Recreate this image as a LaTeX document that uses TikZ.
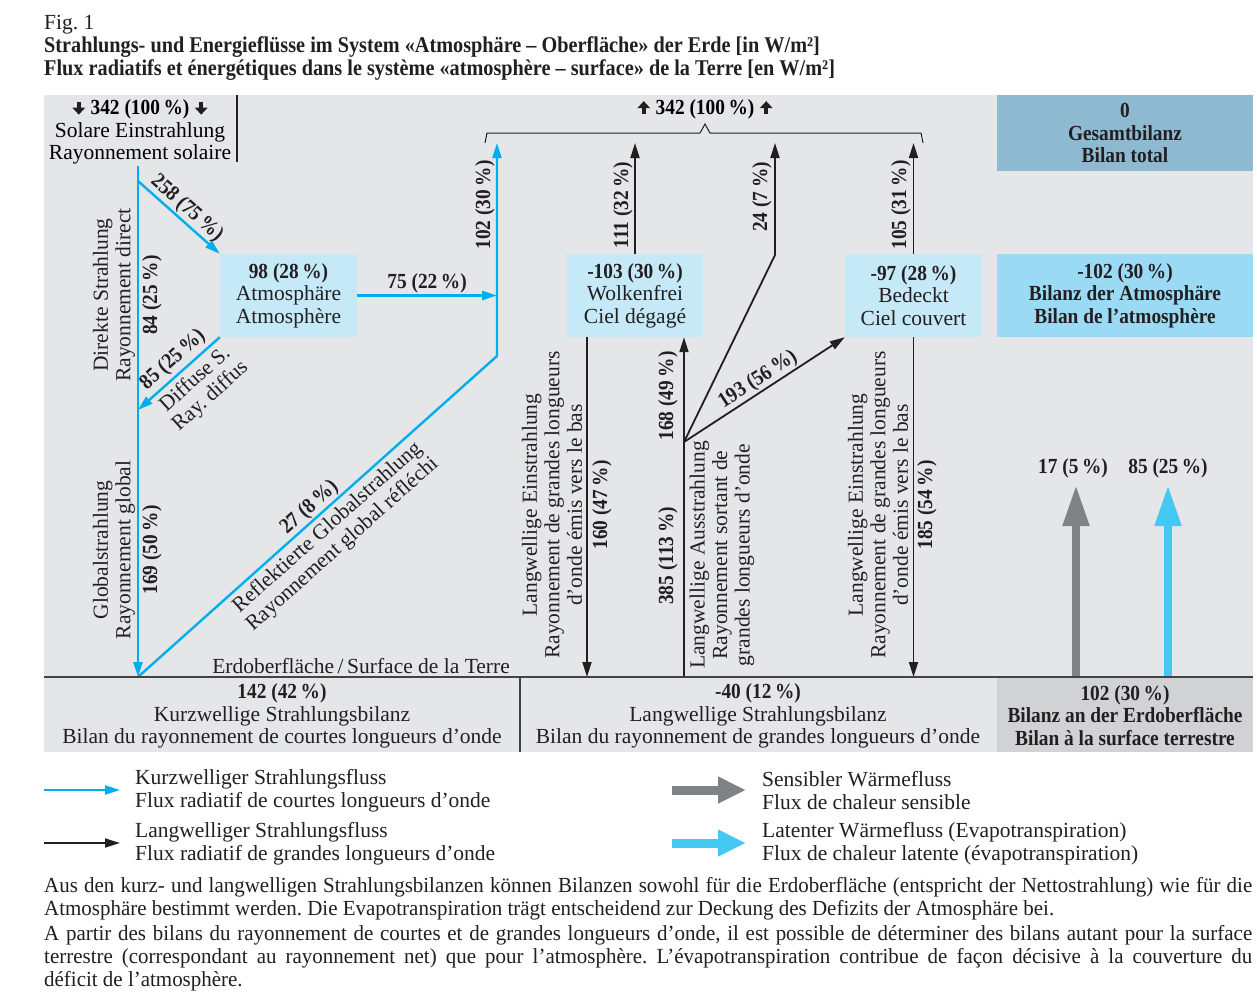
\documentclass[tikz,border=0pt]{standalone}
\usepackage{fontspec}
\setmainfont{Liberation Serif}[BoldFeatures={FakeStretch=0.9}]
\newfontfamily\parafont{Liberation Serif}[FakeStretch=0.975]
\usetikzlibrary{arrows.meta}

\definecolor{ink}{RGB}{35,31,32}
\definecolor{panel}{RGB}{229,230,232}
\definecolor{surfgray}{RGB}{209,210,212}
\definecolor{boxblue}{RGB}{198,233,248}
\definecolor{atmblue}{RGB}{155,218,245}
\definecolor{totalblue}{RGB}{141,186,208}
\definecolor{swblue}{RGB}{0,173,239}
\definecolor{latentblue}{RGB}{70,200,245}
\definecolor{sensgray}{RGB}{128,130,134}

% small bold arrows next to 342
\newcommand\dnglyph{\tikz[x=1pt,y=1pt,baseline=0pt]{\fill (-2,13) rectangle (2,6); \fill (-6.5,7) -- (6.5,7) -- (0,0) -- cycle;}}
\newcommand\upglyph{\tikz[x=1pt,y=1pt,baseline=0pt]{\fill (-2,0) rectangle (2,7); \fill (-6.5,6) -- (6.5,6) -- (0,13) -- cycle;}}

\begin{document}
\frenchspacing
\fontsize{21.5}{22.5}\selectfont\color{ink}
\begin{tikzpicture}[x=1pt,y=-1pt,
    lab/.style={font=\bfseries, inner sep=1pt},
    txt/.style={align=center, inner sep=0pt},
    box/.style={align=center, inner sep=0pt, minimum height=83pt},
    sw/.style={draw=swblue, line width=2.4pt},
    lw/.style={draw=ink, line width=1.8pt},
    tip/.style={-{Triangle[length=15pt,width=9pt]}},
    heat/.style={line width=8pt, -{Triangle[length=41pt,width=25pt]}},
    heatkey/.style={line width=9pt, -{Triangle[length=28pt,width=25pt]}},
    para/.style={anchor=north west, inner sep=0, text width=1208pt, align=justify,
      font=\parafont\fontsize{21.5}{23}\selectfont}]

% page and panels
\fill[white] (0,0) rectangle (1257,1001);
\fill[panel] (44,95) rectangle (1253,752);
\fill[surfgray] (997,677) rectangle (1253,752);

% title
\node[anchor=base west, inner sep=0] (fig) at (44,29) {Fig. 1};
\node[anchor=base west, inner sep=0, font=\fontsize{22.5}{23}\bfseries] (title1) at (44,52) {Strahlungs- und Energieflüsse im System «Atmosphäre – Oberfläche» der Erde [in W/m²]};
\node[anchor=base west, inner sep=0, font=\fontsize{22.5}{23}\bfseries] (title2) at (44,75) {Flux radiatifs et énergétiques dans le système «atmosphère – surface» de la Terre [en W/m²]};

% fixed points
\coordinate (sun) at (138,166);
\coordinate (fork) at (138,181);
\coordinate (diffin) at (138,410);
\coordinate (gnd) at (138,677);
\coordinate (top) at (0,143);
\coordinate (ground) at (0,677);
\coordinate (reflbend) at (497,356);
\coordinate (refltop) at (497,143);
\coordinate (split) at (684,442);
\coordinate (bend24) at (775,255);

% solar input
\node[txt] (solar) at (140,132) {\dnglyph\ \textbf{342 (100\,\%)} \dnglyph\\Solare Einstrahlung\\Rayonnement solaire};
\draw[line width=1.2pt] (237,95) -- (237,162);

% boxes
\node[box, fill=boxblue, minimum width=137pt] (atmo) at (288.5,295.5) {\textbf{98 (28\,\%)}\\Atmosphäre\\Atmosphère};
\node[box, fill=boxblue, minimum width=136pt] (clear) at (635,295.5) {\textbf{-103 (30\,\%)}\\Wolkenfrei\\Ciel dégagé};
\node[box, fill=boxblue, minimum width=137pt] (cover) at (913.5,295.5) {\textbf{-97 (28\,\%)}\\Bedeckt\\Ciel couvert};
\node[box, fill=totalblue, minimum width=256pt, minimum height=76pt, font=\bfseries] (total) at (1125,133) {0\\Gesamtbilanz\\Bilan total};
\node[box, fill=atmblue, minimum width=256pt, font=\bfseries] (atmbal) at (1125,295.5) {-102 (30\,\%)\\Bilanz der Atmosphäre\\Bilan de l’atmosphère};
\node[box, minimum width=256pt, minimum height=75pt, font=\bfseries] (surfbal) at (1125,715.5) {102 (30\,\%)\\Bilanz an der Erdoberfläche\\Bilan à la surface terrestre};

% shortwave
\draw[sw,tip] (sun) -- (gnd);
\draw[sw,tip] (fork) -- node[lab,sloped,above] {258 (75\,\%)} (atmo.north west);
\draw[sw,tip] (atmo.south west) -- (diffin);
\node[lab,rotate=42] (diffnum) at (173,360) {85 (25\,\%)};
\node[txt,rotate=42] (difftxt) at (203,388) {Diffuse S.\\Ray. diffus};
\draw[sw,tip] (atmo.east) -- node[lab,above] {75 (22\,\%)} (atmo.east -| refltop);
\draw[sw,tip] (gnd) -- node[lab,sloped,above] {27 (8\,\%)}
  node[txt,sloped,below,inner sep=4pt] {Reflektierte Globalstrahlung\\Rayonnement global réfléchi} (reflbend) -- (refltop);
\node[lab,rotate=90] (l84) at (152,295) {84 (25\,\%)};
\node[txt,rotate=90] (ldirect) at (114,295) {Direkte Strahlung\\Rayonnement direct};
\node[lab,rotate=90] (l169) at (152,550) {169 (50\,\%)};
\node[txt,rotate=90] (lglobal) at (114,550) {Globalstrahlung\\Rayonnement global};
\node[lab,rotate=90] (l102) at (485,205) {102 (30\,\%)};

% longwave
\coordinate (dnclear) at (587,337);
\draw[lw,tip] (clear.north) -- (clear.north |- top);
\draw[lw,tip] (dnclear) -- (dnclear |- ground);
\draw[lw,tip] (split |- ground) -- (split |- clear.south);
\draw[lw,tip] (split) -- (bend24) -- (bend24 |- top);
\draw[lw,tip] (split) -- node[lab,sloped,above] {193 (56\,\%)} (cover.south west);
\draw[lw,tip] (cover.north) -- (cover.north |- top);
\draw[lw,tip] (cover.south) -- (cover.south |- ground);
\node[lab,rotate=90] (l111) at (623,205) {111 (32\,\%)};
\node[lab,rotate=90] (l24) at (762,197) {24 (7\,\%)};
\node[lab,rotate=90] (l105) at (901,205) {105 (31\,\%)};
\node[lab,rotate=90] (l160) at (602,505) {160 (47\,\%)};
\node[lab,rotate=90] (l168) at (668,396) {168 (49\,\%)};
\node[lab,rotate=90] (l385) at (668,556) {385 (113\,\%)};
\node[lab,rotate=90] (l185) at (927,505) {185 (54\,\%)};
\node[txt,rotate=90] (inclear) at (552,505) {Langwellige Einstrahlung\\Rayonnement de grandes longueurs\\d’onde émis vers le bas};
\node[txt,rotate=90] (outgoing) at (722,555) {Langwellige Ausstrahlung\\Rayonnement sortant de\\grandes longueurs d’onde};
\node[txt,rotate=90] (incover) at (878,505) {Langwellige Einstrahlung\\Rayonnement de grandes longueurs\\d’onde émis vers le bas};

% outgoing bracket
\draw[line width=1pt] (485,143) -- (487,133) -- (700,133) -- (705,124) -- (710,133) -- (921,133) -- (923,143);
\node[txt] (space) at (705,109) {\upglyph\ \textbf{342 (100\,\%)} \upglyph};

% heat fluxes
\node[lab] (l17) at (1073,468) {17 (5\,\%)};
\node[lab] (l85) at (1168,468) {85 (25\,\%)};
\coordinate (sensfoot) at (1076,677);
\coordinate (latfoot) at (1168,677);
\draw[heat,draw=sensgray,fill=sensgray] (sensfoot) -- (sensfoot |- 0,485);
\draw[heat,draw=latentblue,fill=latentblue] (latfoot) -- (latfoot |- 0,485);

% surface line and balances
\draw[line width=1.5pt, draw=ink!85] (44,677) -- (1253,677);
\draw[line width=1.2pt, draw=ink!85] (520,677) -- (520,752);
\node[anchor=base east, inner sep=0] (surface) at (510,673) {Erdoberfläche\,/\,Surface de la Terre};
\node[txt] (swbal) at (282,716) {\textbf{142 (42\,\%)}\\Kurzwellige Strahlungsbilanz\\Bilan du rayonnement de courtes longueurs d’onde};
\node[txt] (lwbal) at (758,716) {\textbf{-40 (12\,\%)}\\Langwellige Strahlungsbilanz\\Bilan du rayonnement de grandes longueurs d’onde};

% legend
\coordinate (key1) at (44,790);
\coordinate (key2) at (44,843);
\coordinate (key3) at (672,790);
\coordinate (key4) at (672,843);
\draw[sw,tip,line width=2pt] (key1) -- ++(76,0);
\draw[lw,tip] (key2) -- ++(76,0);
\draw[heatkey,draw=sensgray,fill=sensgray] (key3) -- ++(74,0);
\draw[heatkey,draw=latentblue,fill=latentblue] (key4) -- ++(74,0);
\node[txt,anchor=west,align=left] (keytxt1) at (135,790.5) {Kurzwelliger Strahlungsfluss\\Flux radiatif de courtes longueurs d’onde};
\node[txt,anchor=west,align=left] (keytxt2) at (135,843.5) {Langwelliger Strahlungsfluss\\Flux radiatif de grandes longueurs d’onde};
\node[txt,anchor=west,align=left] (keytxt3) at (762,790.5) {Sensibler Wärmefluss\\Flux de chaleur sensible};
\node[txt,anchor=west,align=left] (keytxt4) at (762,843.5) {Latenter Wärmefluss (Evapotranspiration)\\Flux de chaleur latente (évapotranspiration)};

% caption text
\node[para] (para1) at (44,877) {Aus den kurz- und langwelligen Strahlungsbilanzen können Bilanzen sowohl für die Erdoberfläche (entspricht der Nettostrahlung) wie für die\linebreak Atmosphäre bestimmt werden. Die Evapotranspiration trägt entscheidend zur Deckung des Defizits der Atmosphäre bei.};
\node[para] (para2) at (44,925) {A partir des bilans du rayonnement de courtes et de grandes longueurs d’onde, il est possible de déterminer des bilans autant pour la surface\linebreak terrestre (correspondant au rayonnement net) que pour l’atmosphère. L’évapotranspiration contribue de façon décisive à la couverture du\linebreak déficit de l’atmosphère.};
\end{tikzpicture}
\end{document}
